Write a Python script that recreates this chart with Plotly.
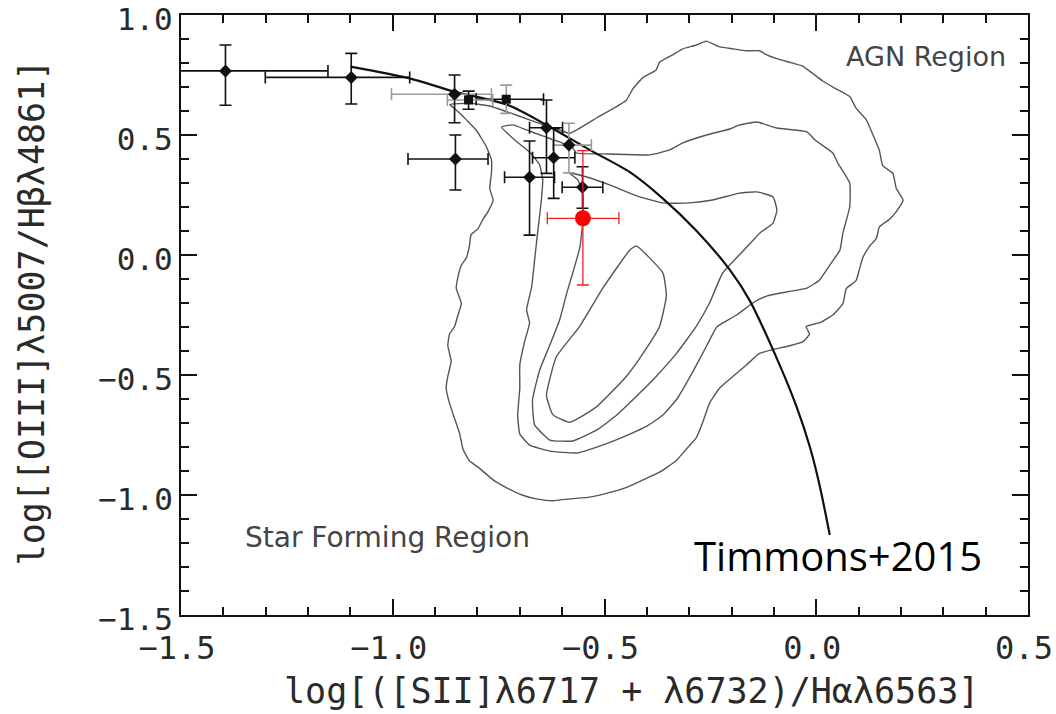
import plotly.graph_objects as go

# ---- Galaxy measurements (black diamonds) ----
gal_x = [-1.395, -1.098, -0.854, -0.852, -0.677, -0.637, -0.620, -0.584, -0.552]
gal_y = [0.767, 0.740, 0.670, 0.400, 0.324, 0.530, 0.405, 0.458, 0.282]
gal_xerr_plus = [0.242, 0.138, 0.087, 0.077, 0.059, 0.038, 0.050, 0.053, 0.048]
gal_xerr_minus = [0.242, 0.203, 0.149, 0.112, 0.059, 0.040, 0.050, 0.038, 0.048]
gal_yerr_plus = [0.108, 0.100, 0.080, 0.100, 0.151, 0.116, 0.123, 0.091, 0.086]
gal_yerr_minus = [0.143, 0.111, 0.119, 0.129, 0.241, 0.190, 0.169, 0.116, 0.087]
gal_xerr_gray = [False, False, True, False, False, False, False, True, False]
gal_yerr_gray = [False, False, False, False, False, False, False, True, False]

# ---- Stacked measurements (black squares) ----
sq_x = [-0.821, -0.732]
sq_y = [0.646, 0.649]
sq_xerr_plus = [0.057, 0.088]
sq_xerr_minus = [0.050, 0.071]
sq_yerr_plus = [0.037, 0.059]
sq_yerr_minus = [0.039, 0.059]
sq_xerr_gray = [True, False]
sq_yerr_gray = [False, True]

# ---- Highlighted object (red) ----
red_x = [-0.551]
red_y = [0.153]
red_xerr_plus = [0.085]
red_xerr_minus = [0.084]
red_yerr_plus = [0.282]
red_yerr_minus = [0.278]

# ---- Timmons+2015 demarcation ----
curve_x = [-1.10, -0.96, -0.854, -0.728, -0.637, -0.535, -0.44, -0.362, -0.283,
           -0.204, -0.157, -0.086, -0.047, -0.015, 0.008, 0.032]
curve_y = [0.785, 0.736, 0.680, 0.625, 0.542, 0.438, 0.345, 0.235, 0.101,
           -0.062, -0.19, -0.46, -0.63, -0.80, -0.96, -1.167]

# ---- Axis ticks ----
x_ticks = [-1.5, -1.0, -0.5, 0.0, 0.5]
y_ticks = [-1.5, -1.0, -0.5, 0.0, 0.5, 1.0]
x_tick_text = ["−1.5", "−1.0", "−0.5", "0.0", "0.5"]
y_tick_text = ["−1.5", "−1.0", "−0.5", "0.0", "0.5", "1.0"]

# ---- SDSS density contours ----
outer_x = [-0.865, -0.850, -0.826, -0.803, -0.779, -0.767, -0.767, -0.771, -0.763, -0.775,
           -0.787, -0.799, -0.815, -0.819, -0.826, -0.838, -0.846, -0.850, -0.838, -0.846,
           -0.854, -0.866, -0.870, -0.862, -0.870, -0.874, -0.866, -0.854, -0.842, -0.834,
           -0.819, -0.795, -0.763, -0.732, -0.693, -0.661, -0.622, -0.582, -0.535, -0.496,
           -0.449, -0.409, -0.370, -0.331, -0.307, -0.283, -0.268, -0.252, -0.228, -0.197,
           -0.165, -0.134, -0.102, -0.063, -0.032, -0.016, -0.024, 0.008, 0.039, 0.063,
           0.071, 0.094, 0.102, 0.110, 0.126, 0.142, 0.149, 0.173, 0.189, 0.205,
           0.189, 0.181, 0.157, 0.149, 0.134, 0.118, 0.094, 0.079, 0.047, 0.016,
           -0.008, -0.032, -0.063, -0.095, -0.118, -0.134, -0.165, -0.197, -0.228, -0.260,
           -0.283, -0.315, -0.338, -0.370, -0.378, -0.409, -0.433, -0.449, -0.515, -0.582,
           -0.606, -0.637, -0.677, -0.724, -0.771, -0.818, -0.865]
outer_y = [0.627, 0.604, 0.563, 0.521, 0.451, 0.396, 0.340, 0.277, 0.229, 0.181,
           0.149, 0.109, 0.085, 0.037, -0.011, -0.043, -0.091, -0.139, -0.202, -0.250,
           -0.298, -0.330, -0.378, -0.442, -0.506, -0.554, -0.617, -0.681, -0.745, -0.809,
           -0.857, -0.889, -0.937, -0.969, -1.001, -1.016, -1.024, -1.016, -1.009, -0.993,
           -0.969, -0.937, -0.905, -0.857, -0.809, -0.761, -0.697, -0.617, -0.554, -0.506,
           -0.458, -0.410, -0.394, -0.378, -0.362, -0.330, -0.298, -0.282, -0.250, -0.202,
           -0.139, -0.107, -0.059, -0.011, 0.037, 0.069, 0.117, 0.149, 0.181, 0.229,
           0.277, 0.340, 0.372, 0.436, 0.500, 0.564, 0.612, 0.660, 0.692, 0.724,
           0.756, 0.787, 0.803, 0.819, 0.835, 0.851, 0.851, 0.859, 0.867, 0.891,
           0.875, 0.859, 0.835, 0.803, 0.771, 0.740, 0.692, 0.644, 0.575, 0.507,
           0.521, 0.538, 0.563, 0.593, 0.621, 0.632, 0.627]

second_x = [-0.743, -0.717, -0.684, -0.646, -0.606, -0.575, -0.566, -0.488, -0.393, -0.346,
            -0.315, -0.259, -0.204, -0.181, -0.140, -0.093, -0.022, -0.003, 0.039, 0.051,
            0.079, 0.079, 0.063, 0.056, 0.032, 0.008, -0.022, -0.070, -0.117, -0.150,
            -0.188, -0.221, -0.235, -0.259, -0.292, -0.329, -0.362, -0.400, -0.440, -0.505,
            -0.566, -0.629, -0.677, -0.700, -0.705, -0.700, -0.700, -0.689, -0.677, -0.684,
            -0.672, -0.665, -0.658, -0.649, -0.646, -0.653, -0.677, -0.712, -0.743]
second_y = [0.533, 0.542, 0.521, 0.496, 0.471, 0.446, 0.425, 0.421, 0.417, 0.438,
            0.467, 0.500, 0.525, 0.542, 0.554, 0.529, 0.513, 0.479, 0.425, 0.383,
            0.300, 0.200, 0.092, 0.021, -0.042, -0.104, -0.138, -0.154, -0.171, -0.200,
            -0.250, -0.283, -0.300, -0.379, -0.488, -0.600, -0.667, -0.713, -0.746, -0.792,
            -0.825, -0.817, -0.792, -0.746, -0.667, -0.554, -0.458, -0.363, -0.283, -0.229,
            -0.133, -0.021, 0.092, 0.229, 0.313, 0.375, 0.429, 0.479, 0.533]

third_x = [-0.583, -0.542, -0.488, -0.424, -0.363, -0.299, -0.245, -0.181, -0.140, -0.102,
           -0.093, -0.102, -0.133, -0.164, -0.221, -0.252, -0.283, -0.329, -0.377, -0.424,
           -0.471, -0.518, -0.575, -0.629, -0.665, -0.670, -0.653, -0.629, -0.606, -0.589,
           -0.575, -0.558, -0.551, -0.551, -0.563, -0.583]
third_y = [0.342, 0.325, 0.292, 0.246, 0.217, 0.217, 0.229, 0.258, 0.263, 0.242,
           0.188, 0.133, 0.092, 0.033, -0.075, -0.200, -0.296, -0.408, -0.504, -0.588,
           -0.667, -0.729, -0.775, -0.771, -0.708, -0.604, -0.479, -0.375, -0.271, -0.158,
           -0.075, 0.033, 0.146, 0.250, 0.313, 0.342]

inner_x = [-0.637, -0.614, -0.559, -0.504, -0.440, -0.425, -0.362, -0.354, -0.370, -0.409,
           -0.448, -0.519, -0.582, -0.622, -0.637]
inner_y = [-0.585, -0.425, -0.298, -0.138, 0.021, 0.038, -0.075, -0.171, -0.298, -0.410,
           -0.505, -0.633, -0.697, -0.665, -0.585]

BLACK = "#111111"
GRAY = "#9a9a9a"
CONTOUR = "#555555"

fig = go.Figure()

# density contours
for cx, cy in [(outer_x, outer_y), (second_x, second_y), (third_x, third_y), (inner_x, inner_y)]:
    fig.add_trace(go.Scatter(x=cx, y=cy, mode="lines",
                             line=dict(color=CONTOUR, width=1.4, shape="spline", smoothing=0.4),
                             hoverinfo="skip", showlegend=False))

# demarcation curve
fig.add_trace(go.Scatter(x=curve_x, y=curve_y, mode="lines",
                         line=dict(color=BLACK, width=2.2, shape="spline", smoothing=0.8),
                         hoverinfo="skip", showlegend=False))


def add_errors(xs, ys, xp, xm, yp, ym, xgray, ygray):
    """Error bars, split by bar colour."""
    for axis, flags in (("x", xgray), ("y", ygray)):
        for gray in (False, True):
            idx = [i for i, f in enumerate(flags) if f == gray]
            if not idx:
                continue
            if axis == "x":
                err = dict(type="data", symmetric=False,
                           array=[xp[i] for i in idx], arrayminus=[xm[i] for i in idx],
                           color=GRAY if gray else BLACK, thickness=1.6, width=6)
                kw = dict(error_x=err)
            else:
                err = dict(type="data", symmetric=False,
                           array=[yp[i] for i in idx], arrayminus=[ym[i] for i in idx],
                           color=GRAY if gray else BLACK, thickness=1.6, width=6)
                kw = dict(error_y=err)
            fig.add_trace(go.Scatter(x=[xs[i] for i in idx], y=[ys[i] for i in idx],
                                     mode="markers", marker=dict(size=1, opacity=0),
                                     hoverinfo="skip", showlegend=False, **kw))


add_errors(gal_x, gal_y, gal_xerr_plus, gal_xerr_minus, gal_yerr_plus, gal_yerr_minus,
           gal_xerr_gray, gal_yerr_gray)
add_errors(sq_x, sq_y, sq_xerr_plus, sq_xerr_minus, sq_yerr_plus, sq_yerr_minus,
           sq_xerr_gray, sq_yerr_gray)

fig.add_trace(go.Scatter(x=gal_x, y=gal_y, mode="markers",
                         marker=dict(symbol="diamond", size=10, color=BLACK),
                         showlegend=False))
fig.add_trace(go.Scatter(x=sq_x, y=sq_y, mode="markers",
                         marker=dict(symbol="square", size=9, color=BLACK),
                         showlegend=False))

# highlighted object
fig.add_trace(go.Scatter(
    x=red_x, y=red_y, mode="markers",
    marker=dict(symbol="circle", size=16, color="#ff0000"),
    error_x=dict(type="data", symmetric=False, array=red_xerr_plus, arrayminus=red_xerr_minus,
                 color="#ee2222", thickness=1.3, width=6),
    error_y=dict(type="data", symmetric=False, array=red_yerr_plus, arrayminus=red_yerr_minus,
                 color="#ee2222", thickness=1.3, width=6),
    showlegend=False))

axis_common = dict(
    showgrid=False, zeroline=False, showline=True, linecolor=BLACK, linewidth=2,
    mirror="allticks", ticks="inside", ticklen=16, tickwidth=2, tickcolor=BLACK,
    tickmode="array", ticklabeloverflow="allow",
    minor=dict(ticks="inside", ticklen=8, tickwidth=2, tickcolor=BLACK,
               tickmode="linear", tick0=0, dtick=0.1),
)

eps = 1e-6
fig.update_xaxes(range=[-1.5 - eps, 0.5 + eps], tickvals=x_ticks, ticktext=x_tick_text,
                 ticklabelshift=-4, ticklabelstandoff=4,
                 tickfont=dict(family="DejaVu Sans Mono", size=32, color="#2a2a2a"),
                 **axis_common)
fig.update_yaxes(range=[-1.5 - eps, 1.0 + eps], tickvals=y_ticks, ticktext=y_tick_text,
                 ticklabelshift=4,
                 tickfont=dict(family="DejaVu Sans Mono", size=31, color="#2a2a2a"),
                 **axis_common)

TITLEFONT = dict(family="DejaVu Sans Mono", size=35, color="#2a2a2a")
fig.add_annotation(text="log[([SII]λ6717 + λ6732)/Hαλ6563]", xref="paper", yref="paper",
                   x=0.532, y=-0.127, xanchor="center", yanchor="middle",
                   showarrow=False, font=TITLEFONT)
fig.add_annotation(text="log[[OIII]λ5007/Hβλ4861]", xref="paper", yref="paper",
                   x=-0.1754, y=0.505, xanchor="center", yanchor="middle", textangle=-90,
                   showarrow=False, font=TITLEFONT)

LABELFONT = dict(family="DejaVu Sans", size=27, color="#444444")
fig.add_annotation(text="AGN Region", xref="paper", yref="paper", x=0.8795, y=0.93,
                   xanchor="center", yanchor="middle", showarrow=False, font=LABELFONT)
fig.add_annotation(text="Star Forming Region", xref="paper", yref="paper", x=0.2434, y=0.13,
                   xanchor="center", yanchor="middle", showarrow=False,
                   font=dict(LABELFONT, size=28))
fig.add_annotation(text="Timmons+2015", xref="paper", yref="paper", x=0.7762, y=0.100,
                   xanchor="center", yanchor="middle", showarrow=False,
                   font=dict(family="Open Sans", size=40, color="#000000"))

fig.update_layout(
    width=1056, height=714,
    margin=dict(l=181, r=28, t=15, b=99, autoexpand=False),
    paper_bgcolor="white", plot_bgcolor="white",
    showlegend=False,
)

fig.write_html("out.html")
